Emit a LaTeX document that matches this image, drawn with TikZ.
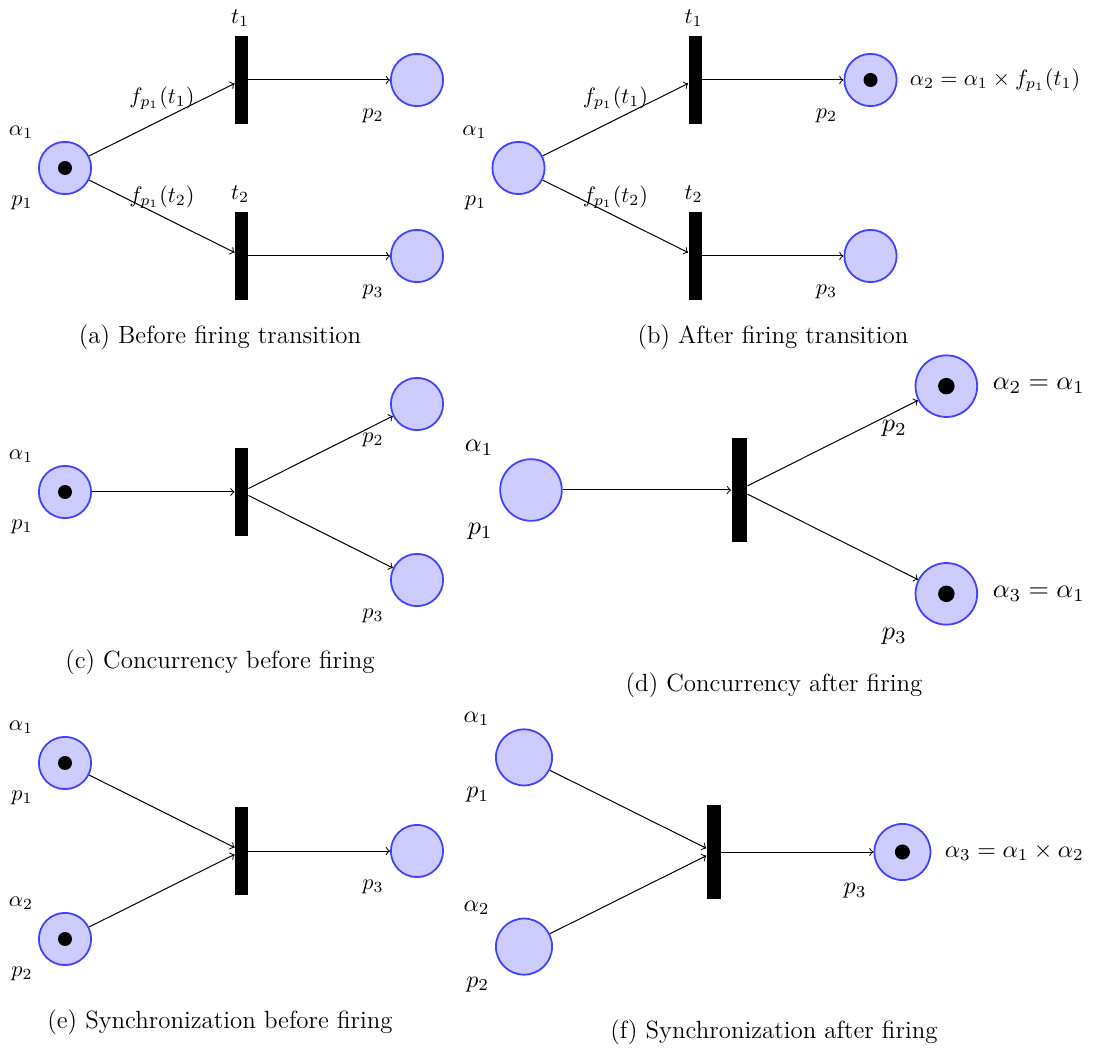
\documentclass[tikz,border=0pt]{standalone}
\usetikzlibrary{arrows}
\begin{document}
\begin{tikzpicture}[x=0.45pt,y=-0.45pt,
  place/.style={circle,draw=blue!75,fill=blue!20,line width=0.8pt,minimum size=23.5pt,inner sep=0pt},
  tok/.style={circle,fill=black,minimum size=6.3pt,inner sep=0pt},
  trans/.style={rectangle,fill=black,minimum width=5.85pt,minimum height=39.6pt,inner sep=0pt},
  arc/.style={->,>=to,line width=0.45pt},
  lab/.style={inner sep=0pt},
  rlab/.style={inner sep=0pt,anchor=west},
  captxt/.style={inner sep=0pt,font=\fontsize{11.2}{13}\selectfont}]
\useasboundingbox (0,0) rectangle (1094,1050);

% ---------- (a) ----------
\begin{scope}[shift={(65,168)},transform shape]
  \node[place] (ap1) at (0,0) {};
  \node[tok] (atk) at (0,0) {};
  \node[trans] (at1) at (176.5,-88) {};
  \node[trans] (at2) at (176.5,88) {};
  \node[place] (ap2) at (352,-88) {};
  \node[place] (ap3) at (352,88) {};
  \draw[arc] (ap1) -- (at1);
  \draw[arc] (ap1) -- (at2);
  \draw[arc] (at1) -- (ap2);
  \draw[arc] (at2) -- (ap3);
  \node[lab] (aa1) at (-44,-36) {$\alpha_1$};
  \node[lab] (al1) at (-43,35) {$p_1$};
  \node[lab] (al2) at (308,-52) {$p_2$};
  \node[lab] (al3) at (308,124) {$p_3$};
  \node[lab] (alt1) at (175,-150) {$t_1$};
  \node[lab] (alt2) at (175,26) {$t_2$};
  \node[lab] (af1) at (97,-70) {$f_{p_1}(t_1)$};
  \node[lab] (af2) at (97,29) {$f_{p_1}(t_2)$};
\end{scope}
\node[captxt] (capa) at (220,337) {(a) Before firing transition};

% ---------- (b) ----------
\begin{scope}[shift={(518.5,168)},transform shape]
  \node[place] (bp1) at (0,0) {};
  \node[trans] (bt1) at (176.5,-88) {};
  \node[trans] (bt2) at (176.5,88) {};
  \node[place] (bp2) at (352,-88) {};
  \node[tok] (btk) at (352,-88) {};
  \node[place] (bp3) at (352,88) {};
  \draw[arc] (bp1) -- (bt1);
  \draw[arc] (bp1) -- (bt2);
  \draw[arc] (bt1) -- (bp2);
  \draw[arc] (bt2) -- (bp3);
  \node[lab] (ba1) at (-44,-36) {$\alpha_1$};
  \node[lab] (bl1) at (-43,35) {$p_1$};
  \node[lab] (bl2) at (308,-52) {$p_2$};
  \node[lab] (bl3) at (308,124) {$p_3$};
  \node[lab] (blt1) at (175,-150) {$t_1$};
  \node[lab] (blt2) at (175,26) {$t_2$};
  \node[lab] (bf1) at (97,-70) {$f_{p_1}(t_1)$};
  \node[lab] (bf2) at (97,29) {$f_{p_1}(t_2)$};
  \node[rlab] (br2) at (391,-88) {$\alpha_2 = \alpha_1 \times f_{p_1}(t_1)$};
\end{scope}
\node[captxt] (capb) at (773,337) {(b) After firing transition};

% ---------- (c) ----------
\begin{scope}[shift={(65,492)},transform shape]
  \node[place] (cp1) at (0,0) {};
  \node[tok] (ctk) at (0,0) {};
  \node[trans] (ct) at (176.5,0) {};
  \node[place] (cp2) at (352,-88) {};
  \node[place] (cp3) at (352,88) {};
  \draw[arc] (cp1) -- (ct);
  \draw[arc] (ct) -- (cp2);
  \draw[arc] (ct) -- (cp3);
  \node[lab] (ca1) at (-44,-36) {$\alpha_1$};
  \node[lab] (cl1) at (-43,35) {$p_1$};
  \node[lab] (cl2) at (308,-52) {$p_2$};
  \node[lab] (cl3) at (308,124) {$p_3$};
\end{scope}
\node[captxt] (capc) at (220,662) {(c) Concurrency before firing};

% ---------- (d) ----------
\begin{scope}[shift={(531,490)},scale=1.18,transform shape]
  \node[place] (dp1) at (0,0) {};
  \node[trans] (dt) at (176.5,0) {};
  \node[place] (dp2) at (352,-88) {};
  \node[tok] (dtk2) at (352,-88) {};
  \node[place] (dp3) at (352,88) {};
  \node[tok] (dtk3) at (352,88) {};
  \draw[arc] (dp1) -- (dt);
  \draw[arc] (dt) -- (dp2);
  \draw[arc] (dt) -- (dp3);
  \node[lab] (da1) at (-44,-36) {$\alpha_1$};
  \node[lab] (dl1) at (-43,35) {$p_1$};
  \node[lab] (dl2) at (308,-52) {$p_2$};
  \node[lab] (dl3) at (308,124) {$p_3$};
  \node[rlab] (dr2) at (391,-88) {$\alpha_2 = \alpha_1$};
  \node[rlab] (dr3) at (391,88) {$\alpha_3 = \alpha_1$};
\end{scope}
\node[captxt] (capd) at (774,685) {(d) Concurrency after firing};

% ---------- (e) ----------
\begin{scope}[shift={(65,851)},transform shape]
  \node[place] (ep1) at (0,-88) {};
  \node[tok] (etk1) at (0,-88) {};
  \node[place] (ep2) at (0,88) {};
  \node[tok] (etk2) at (0,88) {};
  \node[trans] (et) at (176.5,0) {};
  \node[place] (ep3) at (352,0) {};
  \draw[arc] (ep1) -- (et);
  \draw[arc] (ep2) -- (et);
  \draw[arc] (et) -- (ep3);
  \node[lab] (ea1) at (-44,-124) {$\alpha_1$};
  \node[lab] (el1) at (-43,-53) {$p_1$};
  \node[lab] (ea2) at (-44,52) {$\alpha_2$};
  \node[lab] (el2) at (-43,123) {$p_2$};
  \node[lab] (el3) at (308,36) {$p_3$};
\end{scope}
\node[captxt] (cape) at (220,1022) {(e) Synchronization before firing};

% ---------- (f) ----------
\begin{scope}[shift={(524,852)},scale=1.075,transform shape]
  \node[place] (fp1) at (0,-88) {};
  \node[place] (fp2) at (0,88) {};
  \node[trans] (ft) at (176.5,0) {};
  \node[place] (fp3) at (352,0) {};
  \node[tok] (ftk) at (352,0) {};
  \draw[arc] (fp1) -- (ft);
  \draw[arc] (fp2) -- (ft);
  \draw[arc] (ft) -- (fp3);
  \node[lab] (fa1) at (-44,-124) {$\alpha_1$};
  \node[lab] (fl1) at (-43,-53) {$p_1$};
  \node[lab] (fa2) at (-44,52) {$\alpha_2$};
  \node[lab] (fl2) at (-43,123) {$p_2$};
  \node[lab] (fl3) at (308,36) {$p_3$};
  \node[rlab] (fr3) at (391,0) {$\alpha_3 = \alpha_1 \times \alpha_2$};
\end{scope}
\node[captxt] (capf) at (774,1032) {(f) Synchronization after firing};
\end{tikzpicture}
\end{document}
